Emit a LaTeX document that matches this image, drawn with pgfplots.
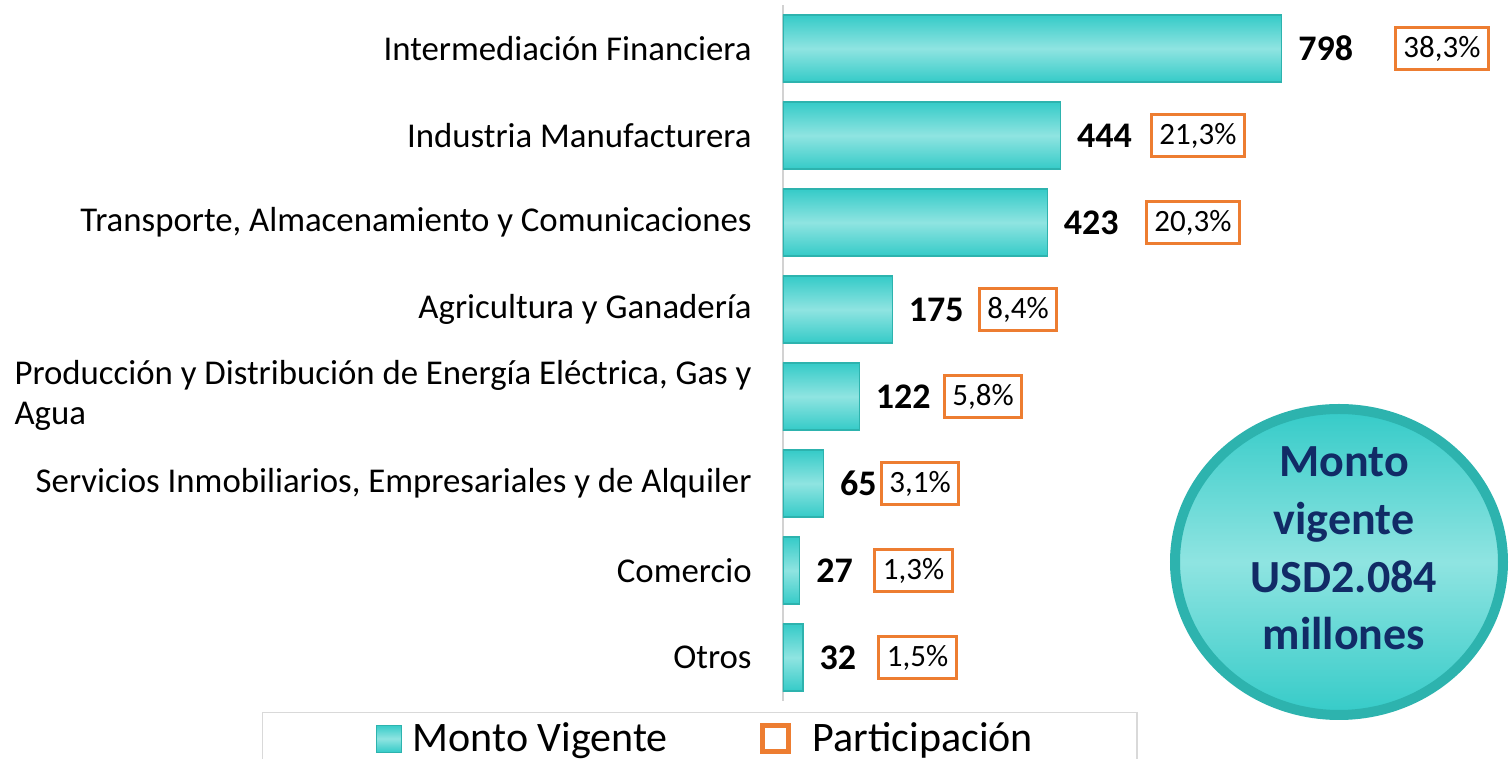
\documentclass[border=0pt]{standalone}
\usepackage{pgfplots}
\pgfplotsset{compat=1.18}
\usepackage{fontspec}
\setmainfont{Carlito}
\definecolor{tealtop}{HTML}{35CBC8}
\definecolor{tealmid}{HTML}{8FE4E1}
\definecolor{tealedge}{HTML}{2DB3AE}
\definecolor{orng}{HTML}{ED7D31}
\definecolor{navy}{HTML}{112B66}
\pgfplotsset{
  barsty/.style={xbar, draw=tealedge, line width=0.6pt, top color=tealtop, bottom color=tealtop, middle color=tealmid,
    point meta=explicit symbolic,
    nodes near coords={\pgfplotspointmeta},
    nodes near coords style={font=\fontsize{18}{20}\selectfont\bfseries, text=black, anchor=west, inner sep=0pt, xshift=8pt}},
}
\begin{document}
\begin{tikzpicture}
\begin{axis}[
  scale only axis, width=364pt, height=348pt,
  xmin=0, xmax=1164.8, ymin=-0.5, ymax=7.5, y dir=reverse,
  axis x line=none, axis y line*=left,
  y axis line style={-, draw=gray!35, line width=0.6pt},
  ytick={0,...,7}, major tick length=0pt,
  yticklabels={{Intermediación Financiera},{Industria Manufacturera},{Transporte, Almacenamiento y Comunicaciones},{Agricultura y Ganadería},{\begin{tabular}{@{}l@{}}Producción y Distribución de Energía Eléctrica, Gas y\\Agua\end{tabular}},{Servicios Inmobiliarios, Empresariales y de Alquiler},{Comercio},{Otros}},
  yticklabel style={font=\fontsize{17.4}{20}\selectfont, inner sep=0pt, xshift=-15.5pt},
  bar width=33.5pt,
  legend columns=2,
  legend style={at={(0,0)}, anchor=north west, xshift=-260.5pt, yshift=-5.5pt,
    draw=gray!30, line width=0.6pt, font=\fontsize{21}{24}\selectfont,
    inner xsep=50pt, inner ysep=3pt,
    /tikz/every even column/.append style={column sep=44pt}},
]
\addplot[barsty,
  legend image code/.code={\path (-6.5pt,0pt); \draw[draw=tealedge, line width=0.5pt, top color=tealtop, bottom color=tealtop, middle color=tealmid] (0pt,-6.75pt) rectangle (12.5pt,6.75pt); \path (16pt,0pt);}
] coordinates {(798,0) [798]};
\addlegendentry{Monto Vigente}
\addplot[barsty, forget plot] coordinates {(444,1) [444]};
\addplot[barsty, forget plot] coordinates {(423,2) [423]};
\addplot[barsty, forget plot] coordinates {(175,3) [175]};
\addplot[barsty, forget plot] coordinates {(122,4) [122]};
\addplot[barsty, forget plot] coordinates {(65,5) [65]};
\addplot[barsty, forget plot] coordinates {(27,6) [27]};
\addplot[barsty, forget plot] coordinates {(32,7) [32]};
\addplot[only marks, mark=none,
  point meta=explicit symbolic,
  nodes near coords={\pgfplotspointmeta\%},
  nodes near coords style={font=\fontsize{15.5}{18}\selectfont, text=black, anchor=west, draw=orng, line width=1.5pt, fill=white, inner xsep=4pt, inner ysep=0pt, minimum height=21pt},
  legend image code/.code={\draw[draw=orng, line width=2.5pt] (0pt,-6.5pt) rectangle (13pt,6.5pt); \path (23pt,0pt);}
] table[x=x, y=i, meta=p] {
i x p
0 977.6 38,3
1 587.2 21,3
2 579.2 20,3
3 312 8,4
4 256 5,8
5 155.2 3,1
6 144.8 1,3
7 151.2 1,5
};
\addlegendentry{Participación}
\end{axis}
\draw[tealedge, line width=5pt, top color=tealtop, bottom color=tealtop, middle color=tealmid] (278pt,69.5pt) ellipse [x radius=82pt, y radius=76.5pt];
\node[align=center, text=navy, font=\fontsize{23}{28.8}\selectfont\bfseries] at (280.5pt,76.25pt) {Monto\\vigente\\USD2.084\\millones};
\pgfresetboundingbox
\path[use as bounding box] (-391.5pt,-29pt) rectangle (364pt,350.5pt);
\end{tikzpicture}
\end{document}
